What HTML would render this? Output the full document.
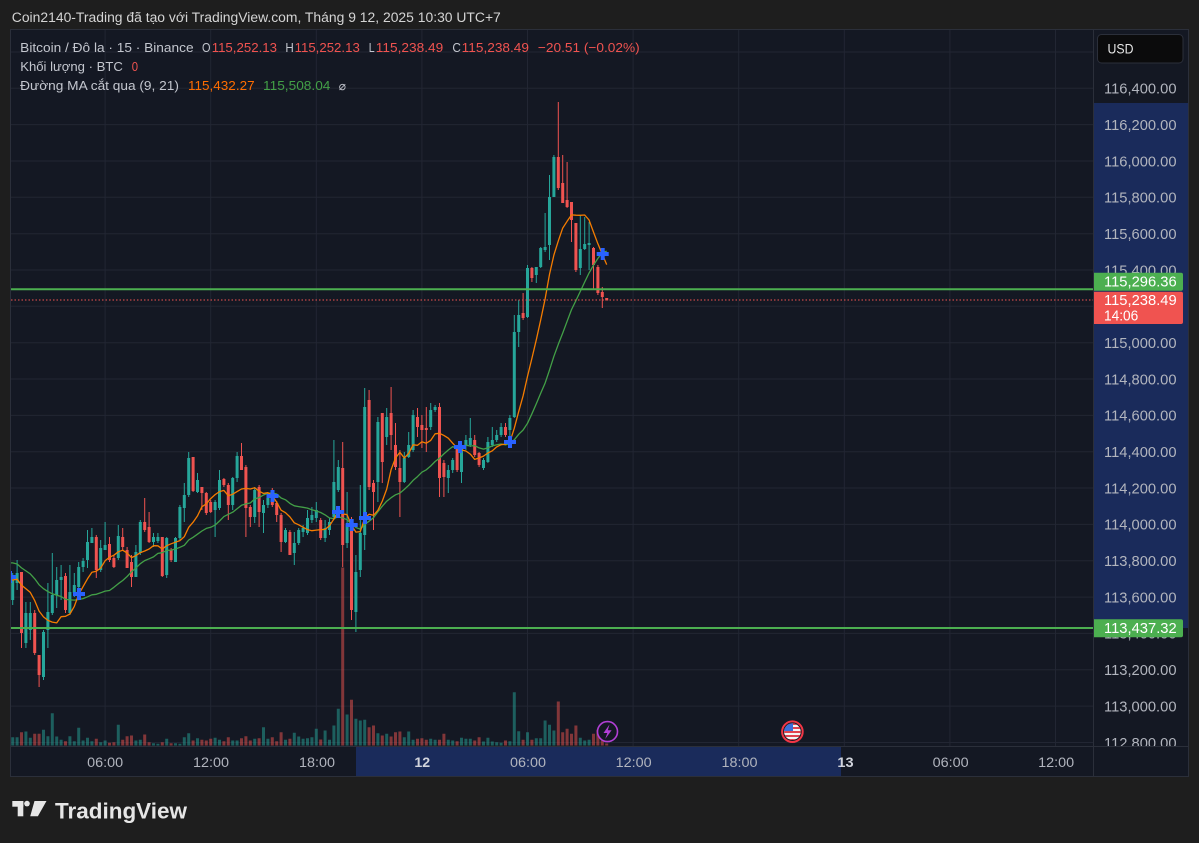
<!DOCTYPE html>
<html><head><meta charset="utf-8">
<style>
html,body{margin:0;padding:0;background:#1e1e1e;}
svg{display:block;font-family:"Liberation Sans","DejaVu Sans",sans-serif;}
</style></head>
<body>
<svg width="1199" height="843" viewBox="0 0 1199 843" xmlns="http://www.w3.org/2000/svg">
<defs>
<clipPath id="cp"><rect x="11" y="30" width="1082" height="716"/></clipPath>
<clipPath id="flagc"><circle cx="792.4" cy="731.7" r="8.3"/></clipPath>
</defs>
<rect width="1199" height="843" fill="#1e1e1e"/>
<!-- header -->
<text x="11.8" y="22" font-size="13.5" fill="#d4d4d4" textLength="489" lengthAdjust="spacingAndGlyphs">Coin2140-Trading đã tạo với TradingView.com, Tháng 9 12, 2025 10:30 UTC+7</text>
<!-- chart frame -->
<rect x="10.5" y="29.5" width="1178" height="747" fill="#141823" stroke="#2b2f3a" stroke-width="1"/>
<!-- axis highlights -->
<rect x="1094" y="103" width="94" height="525" fill="#1a2b5b"/>
<rect x="356" y="746.5" width="485" height="29.5" fill="#1a2b5b"/>
<!-- grid -->
<g stroke="#222633" stroke-width="1">
<path d="M11 52H1093M11 88.3H1093M11 124.6H1093M11 161H1093M11 197.3H1093M11 233.7H1093M11 270H1093M11 306.3H1093M11 342.7H1093M11 379H1093M11 415.4H1093M11 451.7H1093M11 488H1093M11 524.4H1093M11 560.7H1093M11 597.1H1093M11 633.4H1093M11 669.8H1093M11 706.1H1093M11 742.5H1093"/>
<path d="M105.1 30V746M210.7 30V746M316.3 30V746M421.9 30V746M527.5 30V746M633.1 30V746M738.7 30V746M844.3 30V746M949.9 30V746M1055.5 30V746"/>
</g>
<!-- separators -->
<path d="M1093.5 29.5V776.5M10.5 746.5H1188.5" stroke="#2b2f3a" stroke-width="1"/>

<g clip-path="url(#cp)">
<g transform="translate(12.7 0) scale(4.4 1)" fill="none">
<!-- volume -->
<path vector-effect="non-scaling-stroke" stroke="rgba(38,166,154,0.5)" stroke-width="3" d="M0 745.5v-8.3M1 745.5v-8.3M3 745.5v-14M4 745.5v-7.7M7 745.5v-15.7M8 745.5v-9.3M9 745.5v-32.3M10 745.5v-9M11 745.5v-5.7M13 745.5v-9.3M14 745.5v-4.3M15 745.5v-17.7M16 745.5v-5M17 745.5v-7.7M18 745.5v-4.3M20 745.5v-3.3M21 745.5v-5M24 745.5v-20.7M28 745.5v-5M29 745.5v-5.7M32 745.5v-2.3M33 745.5v-1.7M35 745.5v-6.7M37 745.5v-2.3M38 745.5v-1.7M39 745.5v-8.3M40 745.5v-12.3M42 745.5v-7.3M46 745.5v-7.7M47 745.5v-5.7M50 745.5v-5M51 745.5v-5M55 745.5v-6.7M57 745.5v-18.3M58 745.5v-6.7M62 745.5v-5.7M64 745.5v-12.7M65 745.5v-9M66 745.5v-6.7M67 745.5v-7.3M68 745.5v-8.3M69 745.5v-16.7M71 745.5v-15M72 745.5v-5.7M73 745.5v-20M74 745.5v-36.7M76 745.5v-31M78 745.5v-26.7M79 745.5v-25M80 745.5v-25.7M83 745.5v-12.3M85 745.5v-11.7M89 745.5v-8.3M90 745.5v-14M91 745.5v-5.7M95 745.5v-6.7M96 745.5v-5.7M99 745.5v-5.7M100 745.5v-5M102 745.5v-7.7M103 745.5v-6.7M104 745.5v-6.7M107 745.5v-4M108 745.5v-7.7M109 745.5v-4M110 745.5v-3.3M111 745.5v-2.7M113 745.5v-4.3M114 745.5v-53.3M115 745.5v-14.3M117 745.5v-13.3M119 745.5v-7.3M120 745.5v-7.3M121 745.5v-25M122 745.5v-20.7M123 745.5v-15M129 745.5v-7.7M130 745.5v-5M131 745.5v-5.7"/>
<path vector-effect="non-scaling-stroke" stroke="rgba(239,83,80,0.5)" stroke-width="3" d="M2 745.5v-13.3M5 745.5v-11.7M6 745.5v-11.7M12 745.5v-4.3M19 745.5v-6.7M22 745.5v-2.7M23 745.5v-3.3M25 745.5v-5.7M26 745.5v-9.3M27 745.5v-10M30 745.5v-11M31 745.5v-3.3M34 745.5v-3.3M36 745.5v-2.3M41 745.5v-5M43 745.5v-5.7M44 745.5v-5M45 745.5v-6.7M48 745.5v-4.3M49 745.5v-8.3M52 745.5v-7.3M53 745.5v-9.3M54 745.5v-5M56 745.5v-7.3M59 745.5v-8.3M60 745.5v-4.3M61 745.5v-13.3M63 745.5v-6.7M70 745.5v-6M75 745.5v-178M77 745.5v-45.7M81 745.5v-18.3M82 745.5v-20M84 745.5v-10M86 745.5v-9M87 745.5v-13.3M88 745.5v-14M92 745.5v-6.7M93 745.5v-7.3M94 745.5v-5.7M97 745.5v-5.7M98 745.5v-11.7M101 745.5v-4.3M105 745.5v-5M106 745.5v-8.3M112 745.5v-5M116 745.5v-5.7M118 745.5v-5.7M124 745.5v-44M125 745.5v-13.3M126 745.5v-16.7M127 745.5v-11.7M128 745.5v-20M132 745.5v-11.7M133 745.5v-15.7M134 745.5v-5M135 745.5v-2"/>
<!-- teal candles -->
<path vector-effect="non-scaling-stroke" stroke="#26a69a" stroke-width="1" d="M0 573V605M1 560V590M3 602V648M4 602V640M7 630V680M8 583V648M9 553V615M10 567V608M11 565V600M13 565V615M14 573V597M15 562V597M16 558V572M17 530V568M18 528V543M20 540V572M21 522V550M24 525V560M28 545V577M29 520V555M32 533V547M33 533V543M35 537V578M37 537V562M38 505V540M39 483V522M40 452V497M42 473V493M46 500V537M47 470V510M50 477V510M51 452V482M55 487V523M57 500V533M58 495V508M62 528V543M64 532V565M65 528V545M66 525V537M67 510V535M68 507V523M69 502V522M71 520V542M72 518V535M73 440V520M74 460V492M76 492V548M78 555V632M79 485V577M80 388V550M83 417V502M85 408V445M89 452V483M90 432V458M91 410V452M95 403V430M96 405V412M99 465V493M100 458V473M102 445V483M103 435V450M104 418V447M107 458V470M108 437V463M109 427V447M110 430V442M111 423V437M113 415V440M114 315V418M115 300V347M117 265V318M119 267V283M120 247V268M121 213V252M122 175V260M123 155V197M129 215V275M130 217V250M131 222V270"/>
<path vector-effect="non-scaling-stroke" stroke="#26a69a" stroke-width="3" d="M0 580V600M1 573V583M3 613V643M4 613V630M7 632V677M8 612V630M9 595V613M10 580V595M11 577V580M13 592V613M14 585V593M15 567V587M16 561V567M17 542V560M18 537V543M20 548V570M21 545V550M24 536V558M28 552V577M29 522V553M32 537V542M33 537V541M35 538V575M37 538V562M38 507V538M39 495V508M40 458V495M42 480V492M46 502V510M47 480V508M50 478V505M51 456V478M55 490V517M57 505V513M58 498V505M62 530V542M64 543V553M65 530V543M66 528V532M67 518V533M68 515V520M69 510V518M71 528V538M72 522V530M73 482V517M74 467V490M76 525V543M78 572V612M79 533V570M80 407V535M83 422V482M85 417V437M89 458V482M90 445V457M91 415V450M95 410V427M96 407V410M99 470V478M100 460V470M102 447V472M103 440V445M104 438V445M107 460V468M108 442V462M109 440V445M110 435V440M111 427V435M113 418V430M114 332V417M115 315V332M117 268V317M119 267V275M120 248V267M121 247V250M122 197V245M123 157V197M129 249V268M130 244V249M131 243V245"/>
<!-- red candles -->
<path vector-effect="non-scaling-stroke" stroke="#ef5350" stroke-width="1" d="M2 572V648M5 610V655M6 655V687M12 573V613M19 535V578M22 537V562M23 555V568M25 528V550M26 547V568M27 555V587M30 498V532M31 512V543M34 537V577M36 548V562M41 457V492M43 487V510M44 492V515M45 500V513M48 478V487M49 483V520M52 443V470M53 465V537M54 505V527M56 485V527M59 488V507M60 501V522M61 513V552M63 530V555M70 518V540M75 442V567M77 517V620M81 390V490M82 480V530M84 413V483M86 387V450M87 423V470M88 450V517M92 408V437M93 415V448M94 407V452M97 403V497M98 460V497M101 445V472M105 435V457M106 452V467M112 423V437M116 293V320M118 267V282M124 102V190M125 155V203M126 162V208M127 202V242M128 223V272M132 247V290M133 265V295M134 287V308M135 298V300.5"/>
<path vector-effect="non-scaling-stroke" stroke="#ef5350" stroke-width="3" d="M2 572V633M5 613V653M6 655V675M12 576V610M19 537V570M22 544V560M23 558V567M25 537V547M26 550V568M27 562V577M30 522V530M31 527V542M34 537V576M36 550V560M41 457V491M43 487V493M44 493V513M45 502V512M48 479V485M49 485V505M52 456V470M53 467V508M54 507V517M56 487V512M59 492V505M60 503V515M61 515V542M63 532V555M70 520V538M75 468V545M77 520V610M81 400V487M82 483V492M84 413V462M86 413V435M87 445V467M88 468V482M92 417V427M93 425V430M94 428V430M97 407V478M98 463V477M101 445V470M105 440V455M106 453V465M112 427V435M116 313V318M118 268V278M124 157V188M125 183V203M126 200V207M127 202V220M128 223V270M132 248V265M133 267V293M134 292V297M135 298V300.5"/>
<!-- MA lines -->
<path vector-effect="non-scaling-stroke" stroke="#43a047" stroke-width="1.3" stroke-linejoin="round" d="M-0.4 562.9L0 562.9 1 564 2 567.9 3 570.9 4 573.9 5 578.8 6 584.8 7 588.7 8 591.6 9 593.8 10 595.2 11 596.5 12 599.3 13 599.9 14 600.1 15 599.5 16 598.6 17 596.8 18 594.8 19 594.3 20 592.8 21 591.1 22 590.5 23 587.3 24 583.7 25 580.5 26 576.5 27 571.8 28 568 29 563.7 30 560.6 31 558.8 32 556.9 33 553.4 34 552.7 35 550.4 36 550.1 37 549 38 547.3 39 545.3 40 540 41 537.3 42 534.2 43 531 44 528.4 45 527.3 46 525.1 47 521 48 516.6 49 514.3 50 512.2 51 508.7 52 505.3 53 503.9 54 503 55 498.9 56 497.6 57 495 58 493.1 59 493 60 494 61 498 62 499.8 63 503.4 64 505.8 65 506.6 66 507.3 67 508.1 68 509.8 69 511 70 512.5 71 514.9 72 518 73 518.6 74 516.7 75 518 76 519.7 77 524.3 78 527.5 79 529.2 80 524.5 81 521.2 82 517.8 83 511.7 84 506.2 85 501.2 86 497.7 87 494.8 88 493.1 89 489.4 90 485.3 91 480.4 92 476.6 93 472.2 94 469.8 95 466 96 461.5 97 458.2 98 453.9 99 450 100 446.6 101 448.6 102 447.7 103 445.2 104 446 105 445.6 106 447.9 107 449.1 108 447.9 109 445.9 110 444.8 111 444 112 444.9 113 443.5 114 439.8 115 434.3 116 430 117 423.3 118 413.8 119 403.8 120 393.2 121 383.1 122 370.1 123 356.3 124 344.3 125 333.1 126 321.3 127 309.6 128 300.6 129 291.4 130 282 131 272.9 132 265.2 133 258.4 134 252.7 135 251.1"/>
<path vector-effect="non-scaling-stroke" stroke="#f57c00" stroke-width="1.3" stroke-linejoin="round" d="M-0.4 580L0 580 1 579.2 2 585.1 3 588.8 4 592.4 5 600.6 6 611.1 7 616.9 8 620.4 9 622.1 10 622.9 11 616.7 12 616.3 13 614 14 606.4 15 594.4 16 586.6 17 578.8 18 572.3 19 571.2 20 568 21 560.8 22 557.2 23 555.2 24 551.8 25 550.2 26 553.1 27 557.6 28 555.6 29 552.7 30 551 31 549 32 545.7 33 545.8 34 549 35 545.7 36 543.8 37 542.2 38 540.6 39 536.7 40 527.3 41 522.2 42 515.9 43 506.7 44 503.9 45 498.6 46 494.6 47 491.6 48 490.4 49 495.7 50 494.2 51 491.6 52 489 53 488.4 54 489 55 487.7 56 491.2 57 493.4 58 492.7 59 495.7 60 502.2 61 510.2 62 512.7 63 516.9 64 522.8 65 524.8 66 527.3 67 529.6 68 530.7 69 530.1 70 529.7 71 529.4 72 525.8 73 519 74 512 75 513.9 76 514.7 77 525.2 78 532.1 79 531.6 80 518.1 81 514.2 82 515.3 83 510.3 84 501.1 85 489.1 86 469.7 87 458 88 452.3 89 458 90 453.3 91 444.8 92 445.3 93 441.8 94 443.2 95 440.4 96 433.8 97 433.3 98 435.4 99 438.2 100 443.2 101 448 102 449.9 103 451 104 454.1 105 459.4 106 458 107 456.1 108 453 109 450.8 110 446.9 111 444.7 112 444.1 113 441.9 114 428.2 115 411.6 116 395.8 117 376.4 118 358.4 119 339.8 120 319.9 121 299 122 274.4 123 255 124 240.9 125 228.1 126 221.3 127 214.9 128 215.2 129 215.3 130 215 131 220.1 132 232.1 133 243.8 134 254.2 135 264.6"/>
</g>
<!-- cross markers -->
<g fill="#2962ff">
<path d="M4 575h12v4H4zM8 571h4v12H8z"/>
<path d="M73 592h12v4H73zM77 588h4v12H77z"/>
<path d="M266.5 494h12v4h-12zM270.5 490h4v12h-4z"/>
<path d="M332 510h12v4h-12zM336 506h4v12h-4z"/>
<path d="M345.7 523h12v4h-12zM349.7 519h4v12h-4z"/>
<path d="M359 516h12v4h-12zM363 512h4v12h-4z"/>
<path d="M454 445h12v4h-12zM458 441h4v12h-4z"/>
<path d="M504 440h12v4h-12zM508 436h4v12h-4z"/>
<path d="M596.7 252h12v4h-12zM600.7 248h4v12h-4z"/>
</g>
<!-- horizontal lines -->
<path d="M11 300H1093" stroke="#ef5350" stroke-width="1" stroke-dasharray="1.5 2"/>
<path d="M11 289.3H1093M11 628H1093" stroke="#4caf50" stroke-width="2"/>
</g>

<!-- event icons -->
<circle cx="607.5" cy="731.6" r="10" fill="#141823" stroke="#b23fd6" stroke-width="1.6"/>
<path d="M609.5 724.5L603.5 733H607.3L605.2 739L611.6 730.2H607.8Z" fill="#b23fd6"/>
<circle cx="792.4" cy="731.7" r="10.3" fill="#141823" stroke="#f23645" stroke-width="2"/>
<g clip-path="url(#flagc)">
<rect x="783" y="722" width="19" height="19" fill="#f4f4f4"/>
<rect x="783" y="723" width="19" height="2" fill="#e0434f"/>
<rect x="783" y="727" width="19" height="2" fill="#e0434f"/>
<rect x="783" y="731" width="19" height="2" fill="#e0434f"/>
<rect x="783" y="735" width="19" height="2" fill="#e0434f"/>
<rect x="783" y="739" width="19" height="2" fill="#e0434f"/>
<rect x="783" y="722" width="10" height="9" fill="#3b6fd8"/>
</g>

<!-- legend -->
<g font-size="13.3" fill="#c3c6ce">
<text x="20.2" y="52" textLength="173.4" lengthAdjust="spacingAndGlyphs">Bitcoin / Đô la · 15 · Binance</text>
<text x="202" y="52" textLength="8.5" lengthAdjust="spacingAndGlyphs">O</text>
<text x="285.4" y="52" textLength="8.4" lengthAdjust="spacingAndGlyphs">H</text>
<text x="368.7" y="52" textLength="5.9" lengthAdjust="spacingAndGlyphs">L</text>
<text x="452.4" y="52" textLength="8.5" lengthAdjust="spacingAndGlyphs">C</text>
<text x="20.2" y="71" textLength="102.7" lengthAdjust="spacingAndGlyphs">Khối lượng · BTC</text>
<text x="20.2" y="90" textLength="158.7" lengthAdjust="spacingAndGlyphs">Đường MA cắt qua (9, 21)</text>
<text x="338.8" y="90" font-size="12">⌀</text>
</g>
<g font-size="13.3" fill="#f05350">
<text x="211.7" y="52" textLength="65.3" lengthAdjust="spacingAndGlyphs">115,252.13</text>
<text x="294.6" y="52" textLength="65.2" lengthAdjust="spacingAndGlyphs">115,252.13</text>
<text x="375.8" y="52" textLength="67.4" lengthAdjust="spacingAndGlyphs">115,238.49</text>
<text x="461.7" y="52" textLength="67.3" lengthAdjust="spacingAndGlyphs">115,238.49</text>
<text x="537.9" y="52" textLength="101.8" lengthAdjust="spacingAndGlyphs">−20.51 (−0.02%)</text>
<text x="131.7" y="71" textLength="6.3" lengthAdjust="spacingAndGlyphs">0</text>
</g>
<text x="188" y="90" font-size="13.3" fill="#ff6d00" textLength="66.6" lengthAdjust="spacingAndGlyphs">115,432.27</text>
<text x="263" y="90" font-size="13.3" fill="#43a047" textLength="67.4" lengthAdjust="spacingAndGlyphs">115,508.04</text>

<!-- price axis -->
<rect x="1097.5" y="34.5" width="85.5" height="28.5" rx="4" fill="#0b0b0c" stroke="#2b2f3a"/>
<text x="1107.5" y="53.3" font-size="14" fill="#e6e6e6" textLength="26" lengthAdjust="spacingAndGlyphs">USD</text>
<g font-size="14.5" fill="#b2b5be">
<text x="1104" y="93.6" textLength="72.5" lengthAdjust="spacingAndGlyphs">116,400.00</text>
<text x="1104" y="129.9" textLength="72.5" lengthAdjust="spacingAndGlyphs">116,200.00</text>
<text x="1104" y="166.3" textLength="72.5" lengthAdjust="spacingAndGlyphs">116,000.00</text>
<text x="1104" y="202.6" textLength="72.5" lengthAdjust="spacingAndGlyphs">115,800.00</text>
<text x="1104" y="239" textLength="72.5" lengthAdjust="spacingAndGlyphs">115,600.00</text>
<text x="1104" y="275.3" textLength="72.5" lengthAdjust="spacingAndGlyphs">115,400.00</text>
<text x="1104" y="348" textLength="72.5" lengthAdjust="spacingAndGlyphs">115,000.00</text>
<text x="1104" y="384.3" textLength="72.5" lengthAdjust="spacingAndGlyphs">114,800.00</text>
<text x="1104" y="420.7" textLength="72.5" lengthAdjust="spacingAndGlyphs">114,600.00</text>
<text x="1104" y="457" textLength="72.5" lengthAdjust="spacingAndGlyphs">114,400.00</text>
<text x="1104" y="493.3" textLength="72.5" lengthAdjust="spacingAndGlyphs">114,200.00</text>
<text x="1104" y="529.7" textLength="72.5" lengthAdjust="spacingAndGlyphs">114,000.00</text>
<text x="1104" y="566" textLength="72.5" lengthAdjust="spacingAndGlyphs">113,800.00</text>
<text x="1104" y="602.4" textLength="72.5" lengthAdjust="spacingAndGlyphs">113,600.00</text>
<text x="1104" y="638.7" textLength="72.5" lengthAdjust="spacingAndGlyphs">113,400.00</text>
<text x="1104" y="675.1" textLength="72.5" lengthAdjust="spacingAndGlyphs">113,200.00</text>
<text x="1104" y="711.4" textLength="72.5" lengthAdjust="spacingAndGlyphs">113,000.00</text>
</g>
<svg x="1094" y="730" width="94" height="16" overflow="hidden">
<text x="10" y="17.8" font-size="14.5" fill="#b2b5be" textLength="72.5" lengthAdjust="spacingAndGlyphs">112,800.00</text>
</svg>
<!-- price labels -->
<path d="M1094 272.7H1181a2 2 0 0 1 2 2V288.7a2 2 0 0 1-2 2H1094Z" fill="#4caf50"/>
<text x="1104" y="286.3" font-size="14.5" fill="#ffffff" textLength="72.7" lengthAdjust="spacingAndGlyphs">115,296.36</text>
<path d="M1094 291.7H1181a2 2 0 0 1 2 2V322a2 2 0 0 1-2 2H1094Z" fill="#f05350"/>
<text x="1104" y="305" font-size="14.5" fill="#ffffff" textLength="72.7" lengthAdjust="spacingAndGlyphs">115,238.49</text>
<text x="1104" y="320.3" font-size="14.5" fill="#ffffff" textLength="34.3" lengthAdjust="spacingAndGlyphs">14:06</text>
<path d="M1094 619.3H1181a2 2 0 0 1 2 2V635.3a2 2 0 0 1-2 2H1094Z" fill="#4caf50"/>
<text x="1104" y="633" font-size="14.5" fill="#ffffff" textLength="72.7" lengthAdjust="spacingAndGlyphs">113,437.32</text>

<!-- time axis -->
<g font-size="13.5" fill="#b2b5be" text-anchor="middle">
<text x="105.2" y="767" textLength="36" lengthAdjust="spacingAndGlyphs">06:00</text>
<text x="211" y="767" textLength="36" lengthAdjust="spacingAndGlyphs">12:00</text>
<text x="317" y="767" textLength="36" lengthAdjust="spacingAndGlyphs">18:00</text>
<text x="528" y="767" textLength="36" lengthAdjust="spacingAndGlyphs">06:00</text>
<text x="633.7" y="767" textLength="36" lengthAdjust="spacingAndGlyphs">12:00</text>
<text x="739.5" y="767" textLength="36" lengthAdjust="spacingAndGlyphs">18:00</text>
<text x="950.7" y="767" textLength="36" lengthAdjust="spacingAndGlyphs">06:00</text>
<text x="1056.2" y="767" textLength="36" lengthAdjust="spacingAndGlyphs">12:00</text>
</g>
<g font-size="13.5" fill="#d1d4dc" font-weight="bold" text-anchor="middle">
<text x="422.3" y="767" textLength="15.8" lengthAdjust="spacingAndGlyphs">12</text>
<text x="845.5" y="767" textLength="16.2" lengthAdjust="spacingAndGlyphs">13</text>
</g>

<!-- logo -->
<g fill="#e6e6e6">
<rect x="12.3" y="801" width="11" height="5.7"/>
<rect x="17.7" y="801" width="5.6" height="15.3"/>
<circle cx="27" cy="803.6" r="2.8"/>
<polygon points="34.5,801 46.5,801 37.9,816.3 30.2,816.3"/>
<text x="55" y="818.3" font-size="22.5" font-weight="bold" textLength="132" lengthAdjust="spacingAndGlyphs">TradingView</text>
</g>
</svg>
</body></html>
